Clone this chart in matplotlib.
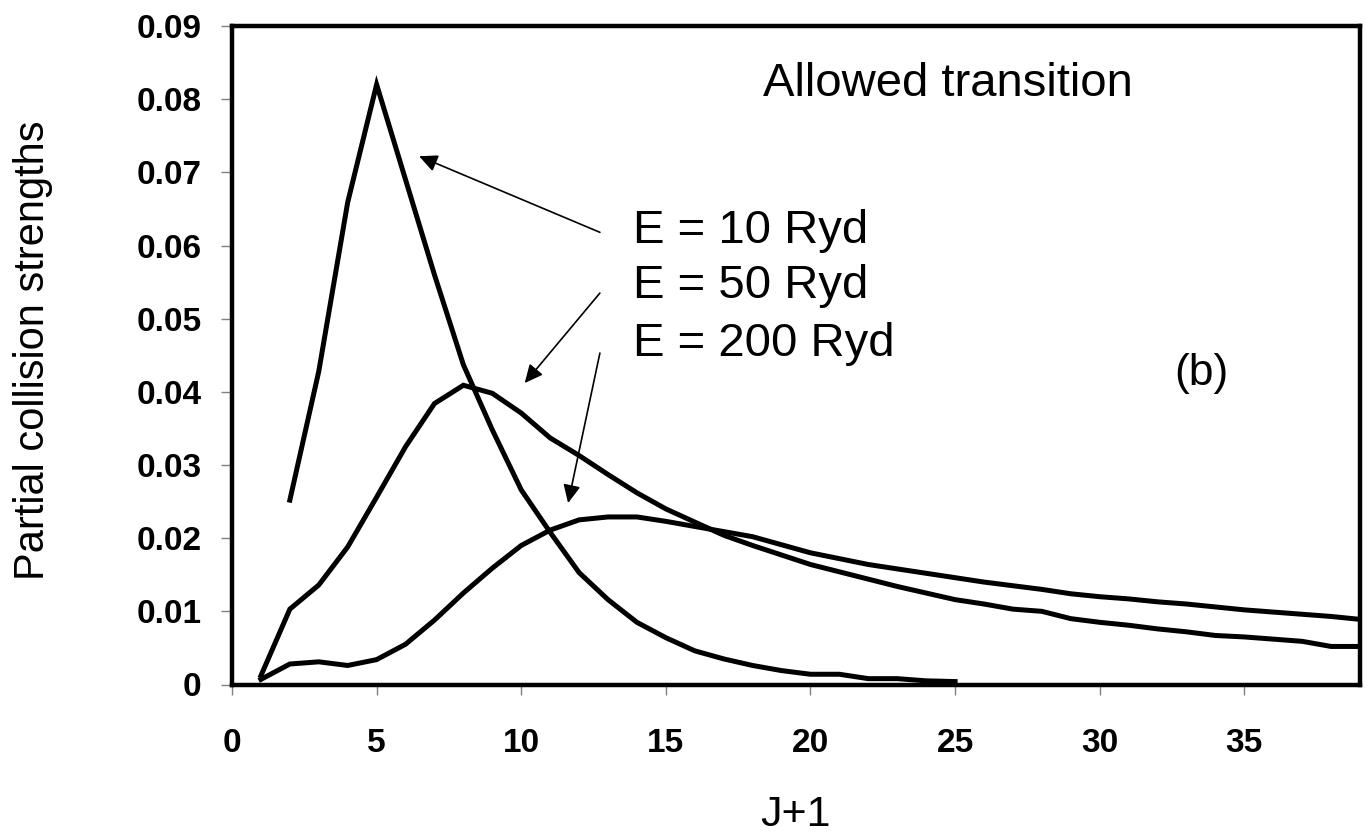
import numpy as np
import matplotlib
matplotlib.use("Agg")
import matplotlib.pyplot as plt

plt.rcParams['font.family'] = ['Liberation Sans', 'DejaVu Sans']

# partial collision strengths against J+1 for three impact energies
j_10 = list(range(2, 26))
omega_10 = [0.0252, 0.0428, 0.0659, 0.0820, 0.0690, 0.0560, 0.0437, 0.0348,
            0.0266, 0.0208, 0.0153, 0.0116, 0.0085, 0.0064, 0.0046, 0.0035,
            0.0026, 0.0019, 0.0014, 0.0014, 0.0008, 0.0008, 0.0005, 0.0004]

j_50 = list(range(1, 40))
omega_50 = [0.0012, 0.0103, 0.0136, 0.0188, 0.0256, 0.0325, 0.0384, 0.0409,
            0.0398, 0.0371, 0.0337, 0.0313, 0.0287, 0.0262, 0.0240, 0.0222,
            0.0204, 0.0190, 0.0177, 0.0164, 0.0154, 0.0144, 0.0134, 0.0125,
            0.0116, 0.0110, 0.0103, 0.0100, 0.0090, 0.0085, 0.0081, 0.0076,
            0.0072, 0.0067, 0.0065, 0.0062, 0.0059, 0.0052, 0.0052]

j_200 = list(range(1, 40))
omega_200 = [0.0007, 0.0028, 0.0031, 0.0026, 0.0034, 0.0055, 0.0088, 0.0125,
             0.0159, 0.0190, 0.0211, 0.0225, 0.0229, 0.0229, 0.0223, 0.0216,
             0.0209, 0.0202, 0.0191, 0.0180, 0.0172, 0.0164, 0.0158, 0.0152,
             0.0146, 0.0140, 0.0135, 0.0130, 0.0124, 0.0120, 0.0117, 0.0113,
             0.0110, 0.0106, 0.0102, 0.0099, 0.0096, 0.0093, 0.0089]

labels = ['E = 10 Ryd', 'E = 50 Ryd', 'E = 200 Ryd']
x_ticks = [0, 5, 10, 15, 20, 25, 30, 35]
y_ticks = [0, 0.01, 0.02, 0.03, 0.04, 0.05, 0.06, 0.07, 0.08, 0.09]

fig = plt.figure(figsize=(13.69, 8.35), dpi=100)
ax = fig.add_axes([232 / 1369, 1 - 684.5 / 835, 1128 / 1369, 658.5 / 835])

for xs, ys in [(j_10, omega_10), (j_50, omega_50), (j_200, omega_200)]:
    ax.plot(xs, ys, color='black', lw=3.6, solid_joinstyle='miter')

ax.set_xlim(0, 39)
ax.set_ylim(0, 0.09)
ax.set_xticks(x_ticks)
ax.set_yticks(y_ticks)
ax.set_xticklabels([str(t) for t in x_ticks], fontsize=24, fontweight='bold')
ax.set_yticklabels(['0'] + ['%.2f' % t for t in y_ticks[1:]], fontsize=24, fontweight='bold')
ax.tick_params(axis='x', direction='out', length=7, width=1, color='#808080', pad=24)
ax.tick_params(axis='y', direction='out', length=8, width=1, color='#808080', pad=14)
for s in ax.spines.values():
    s.set_linewidth(3.2)

# text and arrows pointing at each curve
ax.text(18.36, 0.0804, 'Allowed transition', fontsize=34)
for lab, yb in zip(labels, [0.0603, 0.0528, 0.0449]):
    ax.text(13.88, yb, lab, fontsize=34)
ax.text(33.5, 0.041, '(b)', fontsize=32, ha='center')

arrows = [((12.72, 0.0618), (6.47, 0.0722)),
          ((12.72, 0.0535), (10.12, 0.0412)),
          ((12.72, 0.0453), (11.62, 0.0248))]
for tail, tip in arrows:
    ax.annotate('', xy=tip, xytext=tail,
                arrowprops=dict(arrowstyle='-|>,head_length=0.55,head_width=0.26',
                                mutation_scale=20, lw=1.2, color='black',
                                shrinkA=0, shrinkB=0))

fig.text(33 / 1369, 1 - 350 / 835, 'Partial collision strengths', fontsize=30,
         rotation=90, ha='center', va='center')
fig.text(796 / 1369, 1 - 826 / 835, 'J+1', fontsize=31, ha='center', va='baseline')

fig.savefig('out.png', dpi=100)
